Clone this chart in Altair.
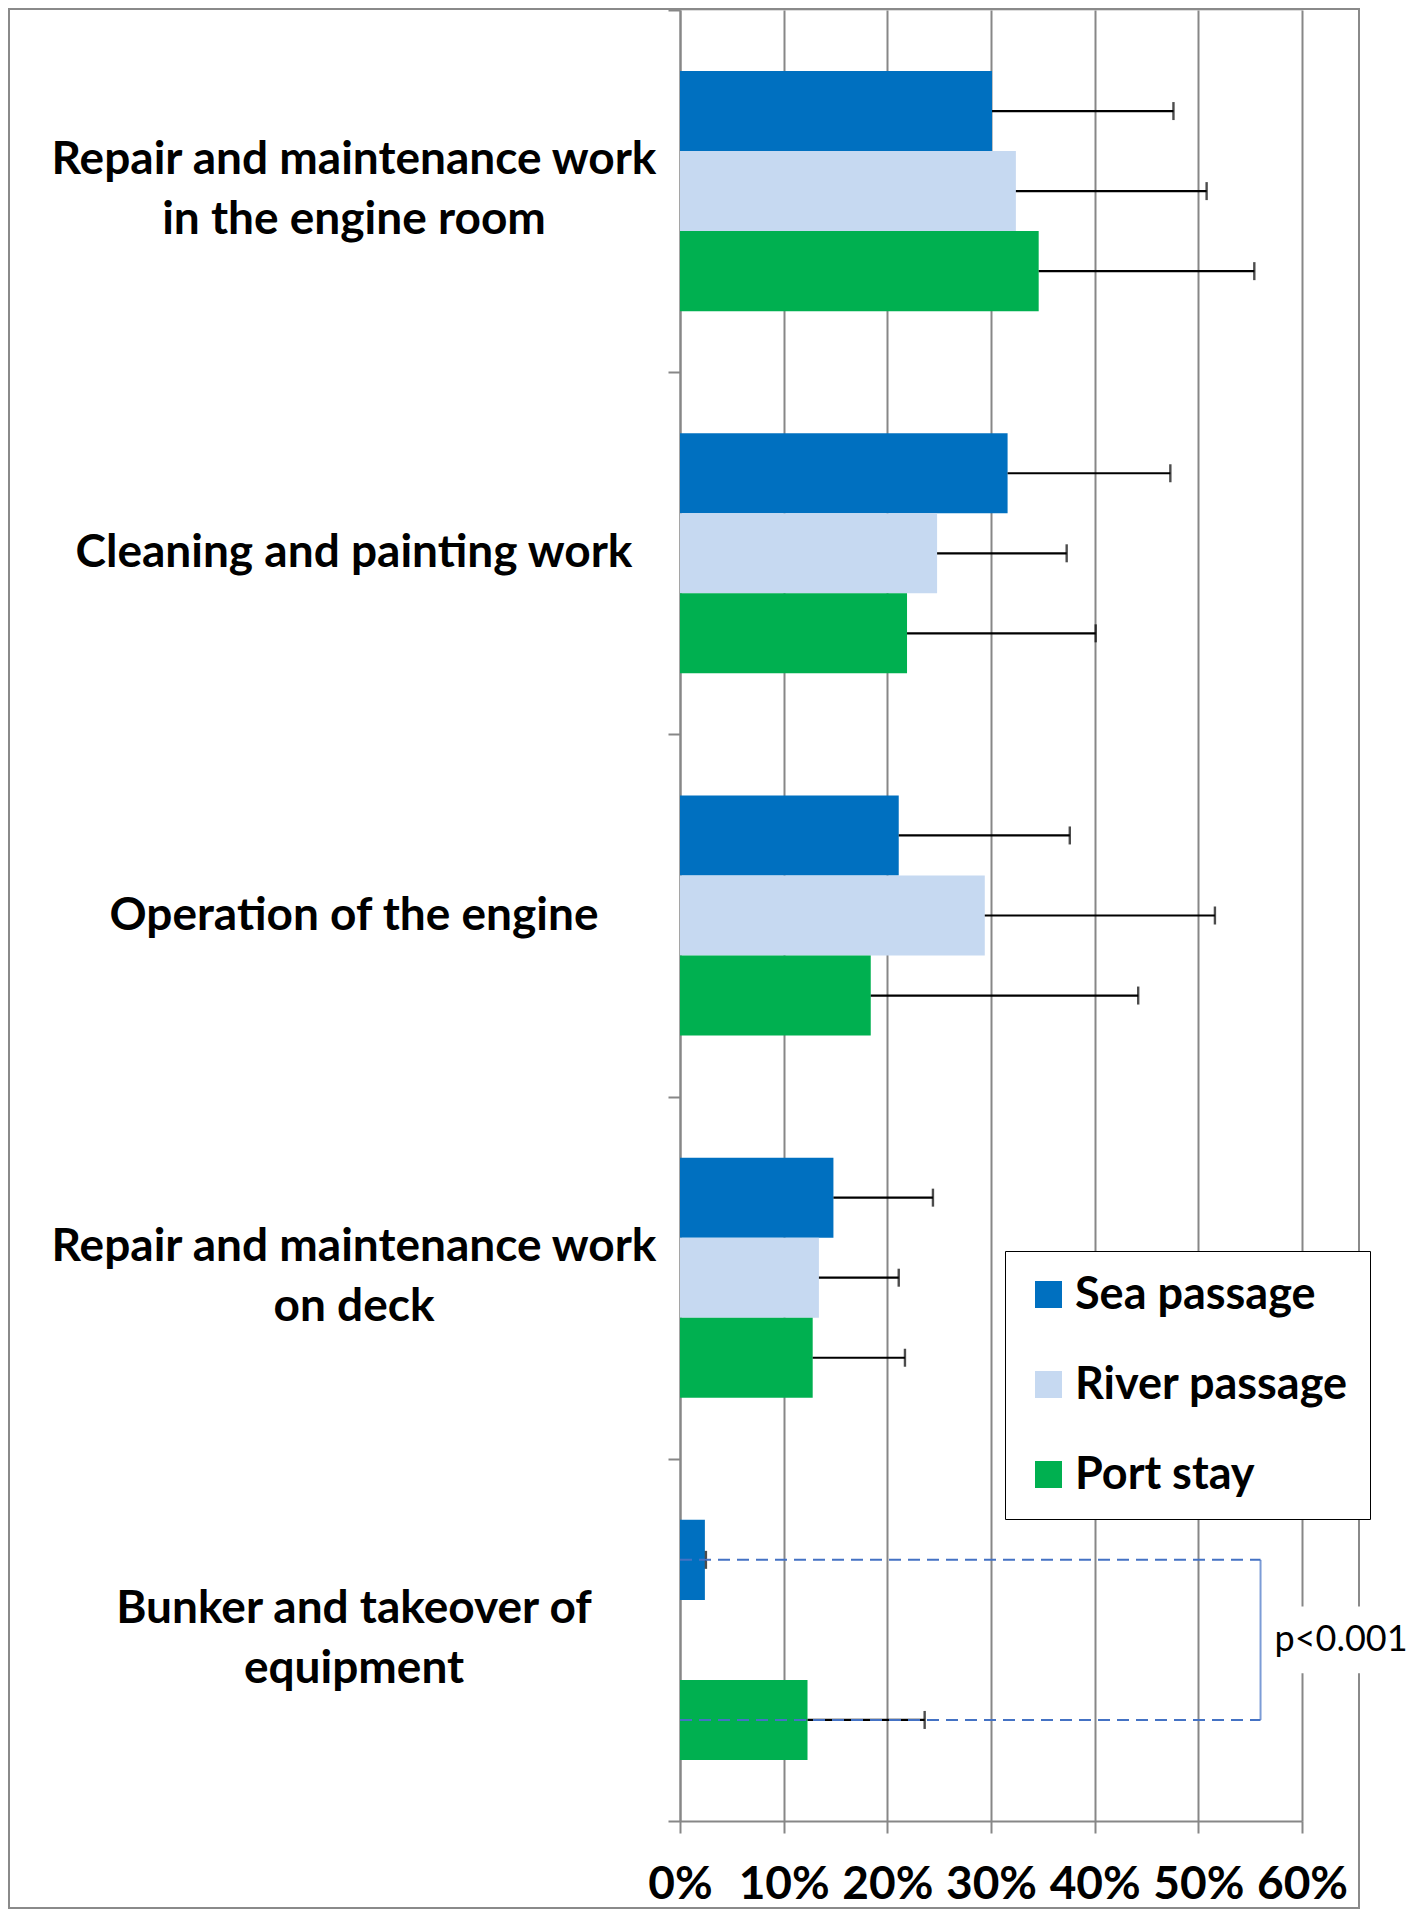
import altair as alt
import pandas as pd

# ---------------- data ----------------
categories = [
    "Repair and maintenance work\nin the engine room",
    "Cleaning and painting work",
    "Operation of the engine",
    "Repair and maintenance work\non deck",
    "Bunker and takeover of\nequipment",
]
series = ["Sea passage", "River passage", "Port stay"]
colors = ["#0070C0", "#C6D9F1", "#00B050"]

sea_values = [0.301, 0.316, 0.211, 0.148, 0.024]
sea_upper = [0.476, 0.473, 0.376, 0.244, 0.025]
river_values = [0.324, 0.248, 0.294, 0.134, None]
river_upper = [0.508, 0.373, 0.516, 0.211, None]
port_values = [0.346, 0.219, 0.184, 0.128, 0.123]
port_upper = [0.554, 0.401, 0.442, 0.217, 0.236]

x_ticks = [0, 0.1, 0.2, 0.3, 0.4, 0.5, 0.6]
p_label = "p<0.001"
bracket_x = 0.56

rows = []
for s, vals, ups in zip(series, [sea_values, river_values, port_values],
                        [sea_upper, river_upper, port_upper]):
    for c, v, u in zip(categories, vals, ups):
        if v is None:
            continue
        rows.append({"category": c, "series": s, "value": v, "upper": u})
df = pd.DataFrame(rows)

cat_df = pd.DataFrame({"category": categories})
multi_df = cat_df[cat_df["category"].str.contains("\n")]
single_df = cat_df[~cat_df["category"].str.contains("\n")]

bracket_df = pd.DataFrame({
    "category": [categories[4], categories[4]],
    "series": ["Sea passage", "Port stay"],
    "x0": [0.0, 0.0],
    "x1": [bracket_x, bracket_x],
})
label_df = pd.DataFrame({"category": [categories[4]], "series": ["River passage"],
                         "x": [bracket_x], "label": [p_label]})
frame_df = pd.DataFrame({"k": [0]})

# ---------------- styling ----------------
GRID = "#878787"
FONT = "Lato"
LINE_H = 60
LABEL_X = -326

x_scale = alt.Scale(domain=[0, 0.6], nice=False, zero=True)
x_axis = alt.Axis(values=x_ticks, format=".0%", title=None, labelFont=FONT,
                  labelFontSize=46, labelFontWeight="bold", labelColor="black",
                  tickSize=12, tickColor=GRID, tickWidth=2, domainColor=GRID,
                  domainWidth=2, gridColor=GRID, gridWidth=2, labelPadding=29,
                  labelFlush=False, grid=True)

y_enc = alt.Y("category:N", sort=categories,
              scale=alt.Scale(domain=categories, paddingInner=0, paddingOuter=0),
              axis=alt.Axis(title=None, tickBand="extent", labels=False,
                            tickSize=12, domainColor=GRID, domainWidth=2,
                            tickColor=GRID, tickWidth=2, grid=False))
yoff_enc = alt.YOffset("series:N", sort=series,
                       scale=alt.Scale(domain=series, paddingInner=0, paddingOuter=0.7625))

# ---------------- layers ----------------
frame = alt.Chart(frame_df).mark_rect(fillOpacity=0, stroke="#8a8a8a", strokeWidth=2).encode(
    x=alt.value(-671), x2=alt.value(679), y=alt.value(-1), y2=alt.value(1898)
)

bars = alt.Chart(df).mark_bar().encode(
    x=alt.X("value:Q", scale=x_scale, axis=x_axis),
    y=y_enc,
    yOffset=yoff_enc,
    color=alt.Color("series:N", sort=series,
                    scale=alt.Scale(domain=series, range=colors),
                    legend=alt.Legend(orient="none", legendX=325, legendY=1241,
                                      title=None, symbolType="square",
                                      symbolSize=729, symbolStrokeWidth=0,
                                      labelFont=FONT, labelFontSize=45,
                                      labelFontWeight="bold", labelColor="black",
                                      labelOffset=4, padding=21, rowPadding=44,
                                      strokeColor="black", fillColor="white",
                                      labelLimit=2000)),
)

text_style = dict(align="center", font=FONT, fontSize=46, fontWeight="bold",
                  color="black", lineBreak="\n", lineHeight=LINE_H)
cat_multi = alt.Chart(multi_df).mark_text(baseline="line-bottom", **text_style).encode(
    x=alt.value(LABEL_X), y=y_enc, text="category:N")
cat_single = alt.Chart(single_df).mark_text(baseline="middle", **text_style).encode(
    x=alt.value(LABEL_X), y=y_enc, text="category:N")

err_line = alt.Chart(df).mark_rule(color="black", strokeWidth=2.2).encode(
    x=alt.X("value:Q", scale=x_scale, axis=x_axis),
    x2="upper:Q",
    y=y_enc,
    yOffset=yoff_enc,
)
err_cap = alt.Chart(df).mark_tick(color="black", thickness=2.4, size=18, orient="vertical").encode(
    x=alt.X("upper:Q", scale=x_scale, axis=x_axis),
    y=y_enc,
    yOffset=yoff_enc,
)

bracket_lines = alt.Chart(bracket_df).mark_rule(color="#4472C4", strokeWidth=2,
                                                strokeDash=[12, 7]).encode(
    x=alt.X("x0:Q", scale=x_scale, axis=x_axis),
    x2="x1:Q",
    y=y_enc,
    yOffset=yoff_enc,
)
bracket_vert = alt.Chart(label_df).mark_tick(color="#4472C4", thickness=2, size=160,
                                             orient="vertical").encode(
    x=alt.X("x:Q", scale=x_scale, axis=x_axis),
    y=y_enc,
    yOffset=yoff_enc,
)
label_box = alt.Chart(label_df).mark_point(
    shape="M-1,-0.46L1,-0.46L1,0.46L-1,0.46Z", size=21000, filled=True,
    fill="white", opacity=1, strokeWidth=0, xOffset=86
).encode(
    x=alt.X("x:Q", scale=x_scale, axis=x_axis),
    y=y_enc,
    yOffset=yoff_enc,
)
label = alt.Chart(label_df).mark_text(align="left", baseline="middle", dx=14,
                                      font=FONT, fontSize=36, color="black").encode(
    x=alt.X("x:Q", scale=x_scale, axis=x_axis),
    y=y_enc,
    yOffset=yoff_enc,
    text="label:N",
)

chart = alt.layer(frame, bars, cat_multi, cat_single, err_line, err_cap,
                  bracket_lines, bracket_vert, label_box, label).properties(
    width=622, height=1811,
    autosize=alt.AutoSizeParams(type="none"),
    padding={"left": 672, "top": 2, "right": 108, "bottom": 90},
    background="white",
).configure_view(stroke=None).configure_legend(strokeWidth=2).configure(font=FONT)

chart.save("out.html", embed_options={"renderer": "svg", "actions": False})
